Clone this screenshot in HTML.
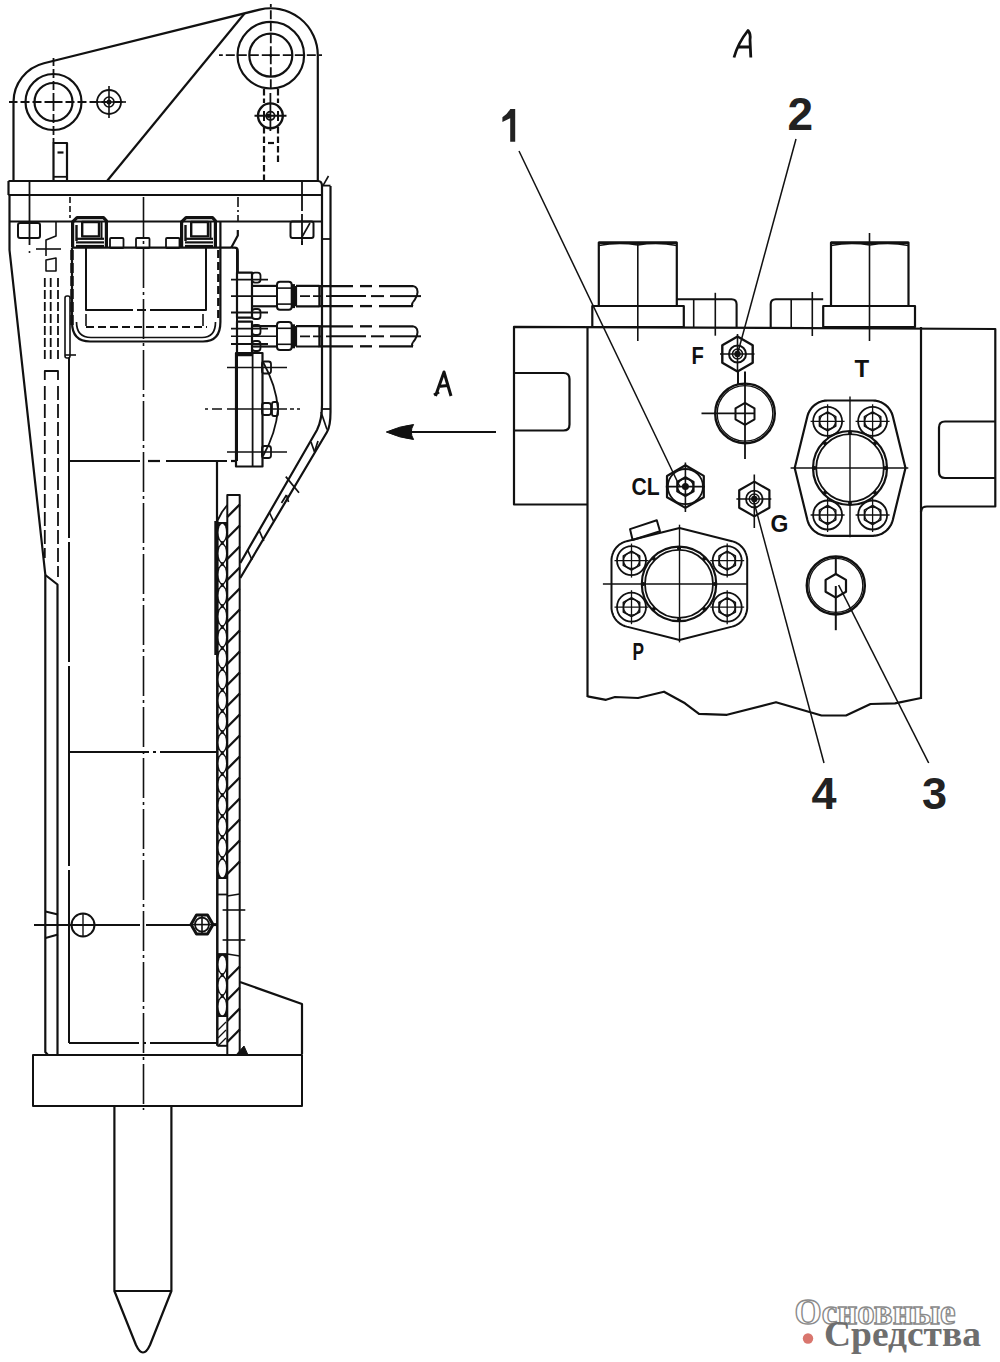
<!DOCTYPE html>
<html><head><meta charset="utf-8"><style>
html,body{margin:0;padding:0;background:#fff;}
body{width:1000px;height:1362px;overflow:hidden;position:relative;}
svg{position:absolute;left:0;top:0;}
</style></head><body>
<svg width="1000" height="1362" viewBox="0 0 1000 1362">
<g stroke="#111" fill="none" stroke-linecap="butt" stroke-linejoin="round">
<path d="M13.5 181 L13.5 102 A40 40 0 0 1 43.9 63.2 L259.6 9.6 A47 47 0 0 1 317.8 55.2 L317.8 181" stroke-width="2.2" fill="none"/>
<line x1="107" y1="181" x2="244.5" y2="13.5" stroke-width="2.2"/>
<circle cx="53.5" cy="102" r="28" stroke-width="2.2" fill="none"/>
<circle cx="53.5" cy="102" r="19" stroke-width="2.2" fill="none"/>
<line x1="53.5" y1="102" x2="9" y2="102" stroke-width="1.8" stroke-dasharray="9 3"/>
<line x1="53.5" y1="102" x2="125" y2="102" stroke-width="1.8" stroke-dasharray="9 3"/>
<line x1="53.5" y1="102" x2="53.5" y2="58" stroke-width="1.8" stroke-dasharray="9 3"/>
<line x1="53.5" y1="102" x2="53.5" y2="143" stroke-width="1.8" stroke-dasharray="9 3"/>
<circle cx="109" cy="102" r="12" stroke-width="1.8" fill="none"/>
<circle cx="109" cy="102" r="5" stroke-width="1.6" fill="none"/>
<circle cx="109" cy="102" r="2.5" stroke="none" fill="#111"/>
<line x1="95" y1="102" x2="126" y2="102" stroke-width="1.6"/>
<line x1="109" y1="86" x2="109" y2="118" stroke-width="1.6"/>
<circle cx="270.8" cy="55.2" r="33.3" stroke-width="2.2" fill="none"/>
<circle cx="270.8" cy="55.2" r="21.5" stroke-width="2.2" fill="none"/>
<line x1="270.8" y1="55.2" x2="219" y2="55.2" stroke-width="1.8" stroke-dasharray="9 3"/>
<line x1="270.8" y1="55.2" x2="322" y2="55.2" stroke-width="1.8" stroke-dasharray="9 3"/>
<line x1="270.8" y1="55.2" x2="270.8" y2="4" stroke-width="1.8" stroke-dasharray="9 3"/>
<line x1="270.8" y1="55.2" x2="270.8" y2="89" stroke-width="1.8" stroke-dasharray="9 3"/>
<circle cx="270.8" cy="55.2" r="1.5" stroke="none" fill="#111"/>
<path d="M53.5 181 L53.5 143 L67 143 L67 181" stroke-width="2.2" fill="none"/>
<line x1="57.5" y1="152.5" x2="63.5" y2="152.5" stroke-width="2.2"/>
<line x1="53.5" y1="176.8" x2="67" y2="176.8" stroke-width="1.8"/>
<line x1="264" y1="89" x2="264" y2="103" stroke-width="2.2" stroke-dasharray="6.5 3"/>
<line x1="278" y1="89" x2="278" y2="103" stroke-width="2.2" stroke-dasharray="6.5 3"/>
<line x1="264" y1="127" x2="264" y2="181" stroke-width="2.2" stroke-dasharray="6.5 3"/>
<line x1="278" y1="127" x2="278" y2="165" stroke-width="2.2" stroke-dasharray="6.5 3"/>
<line x1="268" y1="143" x2="274" y2="143" stroke-width="2.2"/>
<circle cx="270.4" cy="115.8" r="12.4" stroke-width="2.4" fill="none"/>
<circle cx="270.4" cy="115.8" r="4.2" stroke-width="1.8" fill="none"/>
<circle cx="268.5" cy="115.8" r="2.2" stroke="none" fill="#111"/>
<line x1="264" y1="111" x2="264" y2="121" stroke-width="2"/>
<line x1="278" y1="111" x2="278" y2="121" stroke-width="2"/>
<line x1="254.5" y1="115.8" x2="286.5" y2="115.8" stroke-width="2"/>
<line x1="270.4" y1="93" x2="270.4" y2="131" stroke-width="1.8"/>
<path d="M8.5 181 L318 181 Q322 181 322 186 L322 195" stroke-width="2.2" fill="none"/>
<line x1="8.5" y1="181" x2="8.5" y2="195" stroke-width="2.2"/>
<line x1="8.5" y1="195" x2="322" y2="195" stroke-width="2.2"/>
<line x1="29.5" y1="181" x2="29.5" y2="245" stroke-width="1.8"/>
<line x1="302" y1="181" x2="302" y2="245" stroke-width="1.8" stroke-dasharray="30 3 25 2"/>
<line x1="9.5" y1="195" x2="9.5" y2="250" stroke-width="2.2"/>
<line x1="10" y1="221.5" x2="322" y2="221.5" stroke-width="2.2"/>
<path d="M9.5 250 L45.3 574.5 L45.3 1052 L48 1055" stroke-width="2.2" fill="none"/>
<path d="M45.3 575 L57.5 584.5 L57.5 1055" stroke-width="2.2" fill="none"/>
<line x1="44.8" y1="278" x2="44.8" y2="362" stroke-width="1.8" stroke-dasharray="9 3"/>
<line x1="58" y1="278" x2="58" y2="362" stroke-width="1.8" stroke-dasharray="9 3"/>
<line x1="50.7" y1="278" x2="50.7" y2="362" stroke-width="1.8" stroke-dasharray="9 3"/>
<path d="M44.8 380 L44.8 371 L58 371 L58 380" stroke-width="1.8" fill="none"/>
<line x1="44.8" y1="386" x2="44.8" y2="558" stroke-width="1.8" stroke-dasharray="14 4"/>
<line x1="58" y1="386" x2="58" y2="577" stroke-width="1.8" stroke-dasharray="14 4"/>
<rect x="18" y="223" width="22" height="15" rx="2" stroke-width="2" fill="none"/>
<rect x="290.5" y="221.5" width="23" height="16.5" rx="2" stroke-width="2" fill="none"/>
<line x1="302" y1="238" x2="302" y2="245" stroke-width="1.8"/>
<line x1="302" y1="237" x2="310" y2="223" stroke-width="1.6"/>
<path d="M56 222 L56 236 L46 240 L46 256" stroke-width="1.6" fill="none"/>
<line x1="36" y1="249" x2="61" y2="249" stroke-width="1.6"/>
<path d="M46 260 L56 258 L56 271 L46 271 Z" stroke-width="1.6" fill="none"/>
<circle cx="29.5" cy="252" r="1" stroke="none" fill="#111"/>
<line x1="70" y1="197" x2="70" y2="218" stroke-width="1.6" stroke-dasharray="6 3"/>
<line x1="238" y1="197" x2="238" y2="221" stroke-width="1.6" stroke-dasharray="10 3 2 3"/>
<path d="M72.6 247.6 L72.6 222 L77 217.6 L103.5 217.6 L106.4 220.8 L106.4 247.6" stroke-width="3.2" fill="none"/>
<rect x="82.2" y="222" width="16.8" height="14.4" rx="0" stroke-width="2.4" fill="none"/>
<line x1="76.5" y1="225" x2="76.5" y2="241" stroke-width="2.4"/>
<line x1="101.5" y1="222" x2="101.5" y2="238" stroke-width="2"/>
<line x1="76" y1="238.8" x2="104" y2="238.8" stroke-width="2.2"/>
<line x1="76" y1="242.4" x2="104" y2="242.4" stroke-width="2.2"/>
<line x1="76" y1="246" x2="104" y2="246" stroke-width="2.2"/>
<path d="M181.6 247.6 L181.6 222 L186 217.6 L212.5 217.6 L215.4 220.8 L215.4 247.6" stroke-width="3.2" fill="none"/>
<rect x="191.2" y="222" width="16.8" height="14.4" rx="0" stroke-width="2.4" fill="none"/>
<line x1="185.5" y1="225" x2="185.5" y2="241" stroke-width="2.4"/>
<line x1="210.5" y1="222" x2="210.5" y2="238" stroke-width="2"/>
<line x1="185" y1="238.8" x2="213" y2="238.8" stroke-width="2.2"/>
<line x1="185" y1="242.4" x2="213" y2="242.4" stroke-width="2.2"/>
<line x1="185" y1="246" x2="213" y2="246" stroke-width="2.2"/>
<rect x="110" y="238" width="13.5" height="10" rx="1" stroke-width="1.8" fill="none"/>
<rect x="136" y="238" width="13.5" height="10" rx="1" stroke-width="1.8" fill="none"/>
<rect x="166" y="238" width="13.5" height="10" rx="1" stroke-width="1.8" fill="none"/>
<line x1="72" y1="247.7" x2="231.2" y2="247.7" stroke-width="2.2"/>
<path d="M231.2 247.7 L237.8 235.4 L237.8 230" stroke-width="2.2" fill="none"/>
<path d="M231.2 247.7 L234.5 247.7 Q237.8 247.7 237.8 251 L237.8 273" stroke-width="2.2" fill="none"/>
<path d="M86 248 L86 310 L133 310 M137 310 L146 310 M150 310 L206 310 L206 248" stroke-width="2" fill="none"/>
<line x1="86" y1="314" x2="86" y2="326" stroke-width="1.6"/>
<line x1="203" y1="314" x2="203" y2="326" stroke-width="1.6"/>
<line x1="86" y1="327" x2="207" y2="327" stroke-width="1.8" stroke-dasharray="8 4"/>
<path d="M72 248 L72 322 Q72 341.5 90 341.5 L203 341.5 Q220.4 341.5 220.4 322 L220.4 221.5" stroke-width="2.2" fill="none"/>
<path d="M76.5 322 Q76.5 337.5 91 337.5 L202 337.5 Q215.5 337.5 215.5 322" stroke-width="1.7" fill="none"/>
<line x1="72" y1="250" x2="72" y2="326" stroke-width="3.5" stroke-dasharray="10 3"/>
<line x1="218.3" y1="250" x2="218.3" y2="322" stroke-width="2.4" stroke-dasharray="8 4"/>
<rect x="65" y="296" width="5" height="62" rx="2" stroke-width="1.6" fill="none"/>
<line x1="65" y1="355" x2="76" y2="355" stroke-width="1.6"/>
<line x1="69" y1="358" x2="69" y2="1043" stroke-width="2" stroke-dasharray="180 4 120 4 200 4"/>
<line x1="143.5" y1="197" x2="143.5" y2="1110" stroke-width="1.6" stroke-dasharray="40 4 3 4"/>
<line x1="237" y1="248" x2="237" y2="461" stroke-width="2"/>
<rect x="237" y="272.6" width="15" height="45" rx="0" stroke-width="2.2" fill="none"/>
<rect x="237" y="321.6" width="15" height="33.5" rx="0" stroke-width="2.2" fill="none"/>
<rect x="252" y="272.6" width="8.5" height="10" rx="3" stroke-width="1.8" fill="none"/>
<rect x="252" y="309" width="8.5" height="10" rx="3" stroke-width="1.8" fill="none"/>
<rect x="252" y="325" width="8.5" height="10" rx="3" stroke-width="1.8" fill="none"/>
<rect x="252" y="341" width="8.5" height="10" rx="3" stroke-width="1.8" fill="none"/>
<line x1="231" y1="279.6" x2="268" y2="279.6" stroke-width="1.8"/>
<line x1="231" y1="312.5" x2="268" y2="312.5" stroke-width="1.8"/>
<line x1="231" y1="328.6" x2="268" y2="328.6" stroke-width="1.8"/>
<line x1="231" y1="344" x2="268" y2="344" stroke-width="1.8"/>
<line x1="252" y1="285.9" x2="277" y2="285.9" stroke-width="2.2"/>
<line x1="252" y1="306.3" x2="277" y2="306.3" stroke-width="2.2"/>
<rect x="277" y="281.7" width="14.7" height="28" rx="3" stroke-width="2" fill="none"/>
<line x1="277" y1="288.1" x2="291.7" y2="288.1" stroke-width="1.6"/>
<line x1="277" y1="304.1" x2="291.7" y2="304.1" stroke-width="1.6"/>
<line x1="293.5" y1="284.1" x2="293.5" y2="308.1" stroke-width="3"/>
<path d="M296 285.9 L319.5 285.9 M296 306.3 L319.5 306.3 M296 285.9 L296 306.3" stroke-width="2.2" fill="none"/>
<line x1="319.5" y1="285.1" x2="319.5" y2="307.1" stroke-width="2.4"/>
<line x1="231" y1="296.1" x2="276" y2="296.1" stroke-width="1.6"/>
<line x1="300" y1="296.1" x2="330" y2="296.1" stroke-width="1.8" stroke-dasharray="10 3"/>
<line x1="319.5" y1="286.1" x2="353" y2="286.1" stroke-width="2.3"/>
<line x1="360" y1="286.1" x2="372" y2="286.1" stroke-width="2.3"/>
<line x1="379" y1="286.1" x2="413" y2="286.1" stroke-width="2.3"/>
<line x1="319.5" y1="306.1" x2="353" y2="306.1" stroke-width="2.3"/>
<line x1="360" y1="306.1" x2="372" y2="306.1" stroke-width="2.3"/>
<line x1="379" y1="306.1" x2="413" y2="306.1" stroke-width="2.3"/>
<line x1="330" y1="296.1" x2="366" y2="296.1" stroke-width="2"/>
<line x1="371" y1="296.1" x2="384" y2="296.1" stroke-width="2"/>
<line x1="390" y1="296.1" x2="421" y2="296.1" stroke-width="2"/>
<path d="M413 286.1 Q419 287.1 417 295.1 Q415 300.1 413 302.1" stroke-width="2" fill="none"/>
<path d="M413 302.1 Q411 305.1 413 306.1" stroke-width="2" fill="none"/>
<line x1="252" y1="326.1" x2="277" y2="326.1" stroke-width="2.2"/>
<line x1="252" y1="346.5" x2="277" y2="346.5" stroke-width="2.2"/>
<rect x="277" y="321.9" width="14.7" height="28" rx="3" stroke-width="2" fill="none"/>
<line x1="277" y1="328.3" x2="291.7" y2="328.3" stroke-width="1.6"/>
<line x1="277" y1="344.3" x2="291.7" y2="344.3" stroke-width="1.6"/>
<line x1="293.5" y1="324.3" x2="293.5" y2="348.3" stroke-width="3"/>
<path d="M296 326.1 L319.5 326.1 M296 346.5 L319.5 346.5 M296 326.1 L296 346.5" stroke-width="2.2" fill="none"/>
<line x1="319.5" y1="325.3" x2="319.5" y2="347.3" stroke-width="2.4"/>
<line x1="231" y1="336.3" x2="276" y2="336.3" stroke-width="1.6"/>
<line x1="300" y1="336.3" x2="330" y2="336.3" stroke-width="1.8" stroke-dasharray="10 3"/>
<line x1="319.5" y1="326.3" x2="353" y2="326.3" stroke-width="2.3"/>
<line x1="360" y1="326.3" x2="372" y2="326.3" stroke-width="2.3"/>
<line x1="379" y1="326.3" x2="413" y2="326.3" stroke-width="2.3"/>
<line x1="319.5" y1="346.3" x2="353" y2="346.3" stroke-width="2.3"/>
<line x1="360" y1="346.3" x2="372" y2="346.3" stroke-width="2.3"/>
<line x1="379" y1="346.3" x2="413" y2="346.3" stroke-width="2.3"/>
<line x1="330" y1="336.3" x2="366" y2="336.3" stroke-width="2"/>
<line x1="371" y1="336.3" x2="384" y2="336.3" stroke-width="2"/>
<line x1="390" y1="336.3" x2="421" y2="336.3" stroke-width="2"/>
<path d="M413 326.3 Q419 327.3 417 335.3 Q415 340.3 413 342.3" stroke-width="2" fill="none"/>
<path d="M413 342.3 Q411 345.3 413 346.3" stroke-width="2" fill="none"/>
<path d="M322 195 L322 405 Q322 420 317 430 L240.3 563" stroke-width="2.2" fill="none"/>
<path d="M330.5 186 L330.5 412 Q330.5 426 327 432 L240.3 578" stroke-width="2.2" fill="none"/>
<line x1="322" y1="239" x2="330.5" y2="239" stroke-width="1.8"/>
<line x1="322" y1="409" x2="330.5" y2="409" stroke-width="1.8"/>
<line x1="322" y1="185.6" x2="330.5" y2="185.6" stroke-width="1.8"/>
<line x1="323" y1="185.6" x2="328.5" y2="176" stroke-width="1.6"/>
<line x1="321" y1="412" x2="327" y2="429.6" stroke-width="1.7"/>
<line x1="311" y1="442" x2="314.5" y2="451.7" stroke-width="1.7"/>
<line x1="314.5" y1="451.7" x2="318" y2="441" stroke-width="1.7"/>
<line x1="285.8" y1="476.6" x2="299" y2="492.8" stroke-width="1.7"/>
<line x1="281.5" y1="503" x2="286.5" y2="495" stroke-width="1.7"/>
<line x1="286.5" y1="495" x2="288.5" y2="502" stroke-width="1.7"/>
<line x1="269.6" y1="513" x2="274" y2="522" stroke-width="1.7"/>
<line x1="259.4" y1="531" x2="263.8" y2="541" stroke-width="1.7"/>
<line x1="247.6" y1="550" x2="252" y2="560" stroke-width="1.7"/>
<rect x="236" y="353" width="26.5" height="113.5" rx="0" stroke-width="2.2" fill="none"/>
<line x1="252.6" y1="353" x2="252.6" y2="466.5" stroke-width="1.8"/>
<line x1="227" y1="367.5" x2="287" y2="367.5" stroke-width="1.6"/>
<rect x="262" y="361.5" width="9" height="12" rx="2.5" stroke-width="1.8" fill="none"/>
<line x1="227" y1="409" x2="287" y2="409" stroke-width="1.6"/>
<rect x="262" y="403" width="9" height="12" rx="2.5" stroke-width="1.8" fill="none"/>
<line x1="227" y1="452" x2="287" y2="452" stroke-width="1.6"/>
<rect x="262" y="446" width="9" height="12" rx="2.5" stroke-width="1.8" fill="none"/>
<path d="M263 362 Q276 385 278 409 Q276 433 263 456" stroke-width="1.8" fill="none"/>
<rect x="272" y="402" width="6" height="14" rx="2" stroke-width="1.8" fill="none"/>
<line x1="205" y1="409" x2="225" y2="409" stroke-width="1.6" stroke-dasharray="3 4 10 4"/>
<line x1="290" y1="409" x2="300" y2="409" stroke-width="1.6" stroke-dasharray="4 3"/>
<line x1="69" y1="461" x2="140" y2="461" stroke-width="2.2"/>
<line x1="148" y1="461" x2="160" y2="461" stroke-width="2.2"/>
<line x1="166" y1="461" x2="227" y2="461" stroke-width="2.2"/>
<line x1="231" y1="461" x2="237" y2="461" stroke-width="2.2"/>
<line x1="217" y1="461" x2="217" y2="521" stroke-width="2.2"/>
<line x1="69" y1="752" x2="217" y2="752" stroke-width="1.8" stroke-dasharray="80 4 3 4 200"/>
<line x1="69" y1="1043" x2="217" y2="1043" stroke-width="2" stroke-dasharray="70 4 3 4 200"/>
<rect x="227.3" y="495" width="12.4" height="560" rx="0" stroke-width="2" fill="none"/>
<line x1="217.3" y1="521" x2="217.3" y2="1045.8" stroke-width="2.5"/>
<line x1="215.8" y1="521" x2="215.8" y2="655" stroke-width="3"/>
<line x1="217.3" y1="1045.8" x2="227.3" y2="1045.8" stroke-width="2"/>
<line x1="227.3" y1="517" x2="239.7" y2="504.5" stroke-width="2.3"/>
<line x1="227.3" y1="538" x2="239.7" y2="525.5" stroke-width="2.3"/>
<line x1="227.3" y1="559" x2="239.7" y2="546.5" stroke-width="2.3"/>
<line x1="227.3" y1="580" x2="239.7" y2="567.5" stroke-width="2.3"/>
<line x1="227.3" y1="601" x2="239.7" y2="588.5" stroke-width="2.3"/>
<line x1="227.3" y1="622" x2="239.7" y2="609.5" stroke-width="2.3"/>
<line x1="227.3" y1="643" x2="239.7" y2="630.5" stroke-width="2.3"/>
<line x1="227.3" y1="664" x2="239.7" y2="651.5" stroke-width="2.3"/>
<line x1="227.3" y1="685" x2="239.7" y2="672.5" stroke-width="2.3"/>
<line x1="227.3" y1="706" x2="239.7" y2="693.5" stroke-width="2.3"/>
<line x1="227.3" y1="727" x2="239.7" y2="714.5" stroke-width="2.3"/>
<line x1="227.3" y1="748" x2="239.7" y2="735.5" stroke-width="2.3"/>
<line x1="227.3" y1="769" x2="239.7" y2="756.5" stroke-width="2.3"/>
<line x1="227.3" y1="790" x2="239.7" y2="777.5" stroke-width="2.3"/>
<line x1="227.3" y1="811" x2="239.7" y2="798.5" stroke-width="2.3"/>
<line x1="227.3" y1="832" x2="239.7" y2="819.5" stroke-width="2.3"/>
<line x1="227.3" y1="853" x2="239.7" y2="840.5" stroke-width="2.3"/>
<line x1="227.3" y1="874" x2="239.7" y2="861.5" stroke-width="2.3"/>
<line x1="227.3" y1="979" x2="239.7" y2="966.5" stroke-width="2.3"/>
<line x1="227.3" y1="1000" x2="239.7" y2="987.5" stroke-width="2.3"/>
<line x1="227.3" y1="1021" x2="239.7" y2="1008.5" stroke-width="2.3"/>
<line x1="227.3" y1="1042" x2="239.7" y2="1029.5" stroke-width="2.3"/>
<rect x="217.3" y="522" width="10" height="357" fill="#111" stroke="none"/>
<ellipse cx="222.3" cy="532.5" rx="3.7" ry="8.8" fill="#fff" stroke="none"/>
<ellipse cx="222.3" cy="553.5" rx="3.7" ry="8.8" fill="#fff" stroke="none"/>
<polygon points="218.6,539.5 218.6,546.5 221,543" fill="#fff" stroke="none"/>
<polygon points="226,539.5 226,546.5 223.6,543" fill="#fff" stroke="none"/>
<ellipse cx="222.3" cy="574.5" rx="3.7" ry="8.8" fill="#fff" stroke="none"/>
<polygon points="218.6,560.5 218.6,567.5 221,564" fill="#fff" stroke="none"/>
<polygon points="226,560.5 226,567.5 223.6,564" fill="#fff" stroke="none"/>
<ellipse cx="222.3" cy="595.5" rx="3.7" ry="8.8" fill="#fff" stroke="none"/>
<polygon points="218.6,581.5 218.6,588.5 221,585" fill="#fff" stroke="none"/>
<polygon points="226,581.5 226,588.5 223.6,585" fill="#fff" stroke="none"/>
<ellipse cx="222.3" cy="616.5" rx="3.7" ry="8.8" fill="#fff" stroke="none"/>
<polygon points="218.6,602.5 218.6,609.5 221,606" fill="#fff" stroke="none"/>
<polygon points="226,602.5 226,609.5 223.6,606" fill="#fff" stroke="none"/>
<ellipse cx="222.3" cy="637.5" rx="3.7" ry="8.8" fill="#fff" stroke="none"/>
<polygon points="218.6,623.5 218.6,630.5 221,627" fill="#fff" stroke="none"/>
<polygon points="226,623.5 226,630.5 223.6,627" fill="#fff" stroke="none"/>
<ellipse cx="222.3" cy="658.5" rx="3.7" ry="8.8" fill="#fff" stroke="none"/>
<polygon points="218.6,644.5 218.6,651.5 221,648" fill="#fff" stroke="none"/>
<polygon points="226,644.5 226,651.5 223.6,648" fill="#fff" stroke="none"/>
<ellipse cx="222.3" cy="679.5" rx="3.7" ry="8.8" fill="#fff" stroke="none"/>
<polygon points="218.6,665.5 218.6,672.5 221,669" fill="#fff" stroke="none"/>
<polygon points="226,665.5 226,672.5 223.6,669" fill="#fff" stroke="none"/>
<ellipse cx="222.3" cy="700.5" rx="3.7" ry="8.8" fill="#fff" stroke="none"/>
<polygon points="218.6,686.5 218.6,693.5 221,690" fill="#fff" stroke="none"/>
<polygon points="226,686.5 226,693.5 223.6,690" fill="#fff" stroke="none"/>
<ellipse cx="222.3" cy="721.5" rx="3.7" ry="8.8" fill="#fff" stroke="none"/>
<polygon points="218.6,707.5 218.6,714.5 221,711" fill="#fff" stroke="none"/>
<polygon points="226,707.5 226,714.5 223.6,711" fill="#fff" stroke="none"/>
<ellipse cx="222.3" cy="742.5" rx="3.7" ry="8.8" fill="#fff" stroke="none"/>
<polygon points="218.6,728.5 218.6,735.5 221,732" fill="#fff" stroke="none"/>
<polygon points="226,728.5 226,735.5 223.6,732" fill="#fff" stroke="none"/>
<ellipse cx="222.3" cy="763.5" rx="3.7" ry="8.8" fill="#fff" stroke="none"/>
<polygon points="218.6,749.5 218.6,756.5 221,753" fill="#fff" stroke="none"/>
<polygon points="226,749.5 226,756.5 223.6,753" fill="#fff" stroke="none"/>
<ellipse cx="222.3" cy="784.5" rx="3.7" ry="8.8" fill="#fff" stroke="none"/>
<polygon points="218.6,770.5 218.6,777.5 221,774" fill="#fff" stroke="none"/>
<polygon points="226,770.5 226,777.5 223.6,774" fill="#fff" stroke="none"/>
<ellipse cx="222.3" cy="805.5" rx="3.7" ry="8.8" fill="#fff" stroke="none"/>
<polygon points="218.6,791.5 218.6,798.5 221,795" fill="#fff" stroke="none"/>
<polygon points="226,791.5 226,798.5 223.6,795" fill="#fff" stroke="none"/>
<ellipse cx="222.3" cy="826.5" rx="3.7" ry="8.8" fill="#fff" stroke="none"/>
<polygon points="218.6,812.5 218.6,819.5 221,816" fill="#fff" stroke="none"/>
<polygon points="226,812.5 226,819.5 223.6,816" fill="#fff" stroke="none"/>
<ellipse cx="222.3" cy="847.5" rx="3.7" ry="8.8" fill="#fff" stroke="none"/>
<polygon points="218.6,833.5 218.6,840.5 221,837" fill="#fff" stroke="none"/>
<polygon points="226,833.5 226,840.5 223.6,837" fill="#fff" stroke="none"/>
<ellipse cx="222.3" cy="868.5" rx="3.7" ry="8.8" fill="#fff" stroke="none"/>
<polygon points="218.6,854.5 218.6,861.5 221,858" fill="#fff" stroke="none"/>
<polygon points="226,854.5 226,861.5 223.6,858" fill="#fff" stroke="none"/>
<rect x="217.3" y="954" width="10" height="63" fill="#111" stroke="none"/>
<ellipse cx="222.3" cy="964.5" rx="3.7" ry="8.8" fill="#fff" stroke="none"/>
<ellipse cx="222.3" cy="985.5" rx="3.7" ry="8.8" fill="#fff" stroke="none"/>
<polygon points="218.6,971.5 218.6,978.5 221,975" fill="#fff" stroke="none"/>
<polygon points="226,971.5 226,978.5 223.6,975" fill="#fff" stroke="none"/>
<ellipse cx="222.3" cy="1006.5" rx="3.7" ry="8.8" fill="#fff" stroke="none"/>
<polygon points="218.6,992.5 218.6,999.5 221,996" fill="#fff" stroke="none"/>
<polygon points="226,992.5 226,999.5 223.6,996" fill="#fff" stroke="none"/>
<line x1="218" y1="1030" x2="226" y2="1022" stroke-width="1.3"/>
<line x1="218" y1="1038" x2="226" y2="1030" stroke-width="1.3"/>
<line x1="218" y1="1046" x2="226" y2="1038" stroke-width="1.3"/>
<line x1="217.3" y1="894.5" x2="227.3" y2="894.5" stroke-width="1.8"/>
<line x1="217.3" y1="954" x2="227.3" y2="954" stroke-width="1.8"/>
<line x1="227.3" y1="896" x2="239.7" y2="894" stroke-width="1.6"/>
<line x1="227.3" y1="954" x2="239.7" y2="956" stroke-width="1.6"/>
<line x1="222.6" y1="910" x2="245.3" y2="910" stroke-width="1.6"/>
<line x1="222.6" y1="940" x2="245.3" y2="940" stroke-width="1.6"/>
<path d="M217.3 521 L222 512 L227.3 505" stroke-width="1.8" fill="none"/>
<line x1="34" y1="925" x2="140" y2="925" stroke-width="2"/>
<line x1="146" y1="925" x2="190" y2="925" stroke-width="2"/>
<line x1="45.5" y1="911.5" x2="58" y2="914.5" stroke-width="2"/>
<line x1="45.5" y1="938" x2="58" y2="934.5" stroke-width="2"/>
<circle cx="83" cy="925" r="11.5" stroke-width="2" fill="none"/>
<line x1="83" y1="914" x2="83" y2="936" stroke-width="1.4"/>
<polygon points="213,924.6 207.5,934.1 196.5,934.1 191,924.6 196.5,915.1 207.5,915.1" stroke-width="3" fill="none"/>
<circle cx="202" cy="924.6" r="7" stroke-width="1.8" fill="none"/>
<line x1="192" y1="924.6" x2="212" y2="924.6" stroke-width="1.6"/>
<line x1="202" y1="916" x2="202" y2="933" stroke-width="1.6"/>
<line x1="212" y1="924.6" x2="217" y2="924.6" stroke-width="3"/>
<path d="M240 982 L302 1004 L302 1054" stroke-width="2.2" fill="none"/>
<path d="M236 1055 L244 1046 L248 1055 Z" stroke-width="1" fill="#111"/>
<rect x="33" y="1055" width="269" height="51" rx="0" stroke-width="2" fill="none"/>
<path d="M114.4 1106 L114.4 1291 L171.4 1291 L171.4 1106" stroke-width="2.2" fill="none"/>
<path d="M114.4 1291 L136 1345 Q143 1360 150 1345 L171.4 1291" stroke-width="2.2" fill="none"/>
<path d="M587.5 504.5 L514 504.5 L514 326.8 L995.3 329 L995.3 506.5 L927 506.5 Q921 506.5 921 512" stroke-width="2.2" fill="none"/>
<line x1="587.5" y1="327" x2="587.5" y2="697" stroke-width="2.2"/>
<line x1="921" y1="327" x2="921" y2="699" stroke-width="2.2"/>
<path d="M587.5 696.3 L606 699.8 L615 697 L638 698 L664 691.7 L685 703.3 L699 713.8 L727 714.8 L776 702.2 L821.5 715.5 L846 715.5 L870.5 704 L895 703.3 L921 698" stroke-width="2.2" fill="none"/>
<path d="M514 373 L563.5 373 Q569.5 373 569.5 379 L569.5 424.5 Q569.5 430.5 563.5 430.5 L514 430.5" stroke-width="2.2" fill="none"/>
<path d="M995 421.5 L945 421.5 Q939 421.5 939 427.5 L939 472 Q939 478 945 478 L995 478" stroke-width="2.2" fill="none"/>
<path d="M598.8 306 L598.8 242.5 L676.8 242.5 L676.8 306" stroke-width="2.2" fill="none"/>
<line x1="598.8" y1="242.8" x2="676.8" y2="242.8" stroke-width="2.6"/>
<path d="M598.8 245.5 Q618.3 242 637.8 245 Q657.3 242 676.8 245.5" stroke-width="1.5" fill="none"/>
<rect x="592.3" y="306" width="91.5" height="21" rx="0" stroke-width="2.2" fill="none"/>
<line x1="637.8" y1="242" x2="637.8" y2="341" stroke-width="1.6"/>
<path d="M831 306 L831 242.5 L908.5 242.5 L908.5 306" stroke-width="2.2" fill="none"/>
<line x1="831" y1="242.8" x2="908.5" y2="242.8" stroke-width="2.6"/>
<path d="M831 245.5 Q850.4 242 869.8 245 Q889.1 242 908.5 245.5" stroke-width="1.5" fill="none"/>
<rect x="823.2" y="306" width="91.8" height="21" rx="0" stroke-width="2.2" fill="none"/>
<line x1="869.5" y1="233" x2="869.5" y2="341" stroke-width="1.6"/>
<path d="M676.8 299.3 L731.6 299.3 Q736.6 299.3 736.6 304.3 L736.6 327" stroke-width="2.1" fill="none"/>
<line x1="693.7" y1="299.3" x2="693.7" y2="327" stroke-width="1.6"/>
<line x1="715.3" y1="292.8" x2="715.3" y2="335.7" stroke-width="1.6"/>
<path d="M823.2 299.3 L775.7 299.3 Q770.7 299.3 770.7 304.3 L770.7 327" stroke-width="2.1" fill="none"/>
<line x1="791.2" y1="299.3" x2="791.2" y2="327" stroke-width="1.6"/>
<line x1="812.3" y1="292" x2="812.3" y2="336" stroke-width="1.6"/>
<polygon points="737.5,371.5 722.3,362.8 722.3,345.2 737.5,336.5 752.7,345.2 752.7,362.8" stroke-width="2.4" fill="none"/>
<circle cx="737.5" cy="354" r="8.5" stroke-width="2" fill="none"/>
<circle cx="737.5" cy="354" r="5" stroke-width="1.5" fill="none"/>
<circle cx="737.5" cy="354" r="3.2" stroke="none" fill="#111"/>
<line x1="720" y1="354" x2="754.5" y2="354" stroke-width="1.6"/>
<line x1="737.5" y1="334" x2="737.5" y2="372" stroke-width="1.6"/>
<line x1="738" y1="371.5" x2="738" y2="385" stroke-width="2"/>
<line x1="745" y1="371.5" x2="745" y2="385" stroke-width="2"/>
<circle cx="745" cy="413.4" r="29.8" stroke-width="2.4" fill="none"/>
<circle cx="745" cy="413.4" r="27.8" stroke-width="1.3" fill="none"/>
<polygon points="745,424.8 735.5,419.3 735.5,408.3 745,402.8 754.5,408.3 754.5,419.3" stroke-width="2" fill="none"/>
<line x1="701.5" y1="413.4" x2="755" y2="413.4" stroke-width="1.8"/>
<line x1="745" y1="384" x2="745" y2="459" stroke-width="1.8"/>
<polygon points="685.4,507.9 667,497.2 667,476 685.4,465.3 703.8,475.9 703.8,497.2" stroke-width="2.2" fill="none"/>
<circle cx="685.4" cy="486.6" r="17.6" stroke-width="1.8" fill="none"/>
<polygon points="685.4,496.1 677.2,491.4 677.2,481.9 685.4,477.1 693.6,481.9 693.6,491.4" stroke-width="2" fill="none"/>
<circle cx="685.4" cy="486.6" r="8" stroke-width="1.6" fill="none"/>
<circle cx="685.4" cy="486.6" r="3.5" stroke="none" fill="#111"/>
<line x1="665.8" y1="486.6" x2="705" y2="486.6" stroke-width="1.6"/>
<line x1="685.4" y1="462.5" x2="685.4" y2="512" stroke-width="1.6"/>
<polygon points="754.3,516.4 739.2,507.7 739.2,490.3 754.3,481.6 769.4,490.3 769.4,507.7" stroke-width="2.2" fill="none"/>
<circle cx="754.3" cy="499" r="8.3" stroke-width="1.8" fill="none"/>
<circle cx="754.3" cy="499" r="5" stroke-width="1.4" fill="none"/>
<circle cx="754.3" cy="499" r="3.2" stroke="none" fill="#111"/>
<line x1="736.4" y1="499" x2="771.3" y2="499" stroke-width="1.6"/>
<line x1="754.3" y1="474.5" x2="754.3" y2="528" stroke-width="1.6"/>
<path d="M794.7 468 L807.4 416.3 L807.6 415.6 L807.8 414.9 L808.1 414.2 L808.3 413.5 L808.6 412.8 L808.9 412.2 L809.2 411.5 L809.6 410.9 L810 410.3 L810.4 409.7 L810.8 409.1 L811.2 408.5 L811.7 407.9 L812.1 407.4 L812.6 406.9 L813.2 406.3 L813.7 405.8 L814.2 405.4 L814.8 404.9 L815.4 404.5 L816 404.1 L816.6 403.7 L817.2 403.3 L817.8 402.9 L818.5 402.6 L819.1 402.3 L819.8 402 L820.5 401.8 L821.2 401.5 L821.9 401.3 L822.6 401.1 L823.3 401 L824 400.8 L824.7 400.7 L825.4 400.6 L826.1 400.6 L826.9 400.5 L827.6 400.5 L872.6 400.5 L873.3 400.5 L874.1 400.6 L874.8 400.6 L875.5 400.7 L876.2 400.8 L876.9 401 L877.6 401.1 L878.3 401.3 L879 401.5 L879.7 401.8 L880.4 402 L881.1 402.3 L881.7 402.6 L882.4 402.9 L883 403.3 L883.6 403.7 L884.2 404.1 L884.8 404.5 L885.4 404.9 L886 405.4 L886.5 405.8 L887 406.3 L887.6 406.9 L888.1 407.4 L888.5 407.9 L889 408.5 L889.4 409.1 L889.8 409.7 L890.2 410.3 L890.6 410.9 L891 411.5 L891.3 412.2 L891.6 412.8 L891.9 413.5 L892.1 414.2 L892.4 414.9 L892.6 415.6 L892.8 416.3 L905.5 468 L892.8 520 L892.6 520.7 L892.4 521.4 L892.1 522.1 L891.9 522.8 L891.6 523.5 L891.3 524.1 L891 524.8 L890.6 525.4 L890.2 526 L889.8 526.6 L889.4 527.2 L889 527.8 L888.5 528.4 L888.1 528.9 L887.6 529.4 L887 530 L886.5 530.5 L886 530.9 L885.4 531.4 L884.8 531.8 L884.2 532.2 L883.6 532.6 L883 533 L882.4 533.4 L881.7 533.7 L881.1 534 L880.4 534.3 L879.7 534.5 L879 534.8 L878.3 535 L877.6 535.2 L876.9 535.3 L876.2 535.5 L875.5 535.6 L874.8 535.7 L874.1 535.7 L873.3 535.8 L872.6 535.8 L827.6 535.8 L826.9 535.8 L826.1 535.7 L825.4 535.7 L824.7 535.6 L824 535.5 L823.3 535.3 L822.6 535.2 L821.9 535 L821.2 534.8 L820.5 534.5 L819.8 534.3 L819.1 534 L818.5 533.7 L817.8 533.4 L817.2 533 L816.6 532.6 L816 532.2 L815.4 531.8 L814.8 531.4 L814.2 530.9 L813.7 530.5 L813.2 530 L812.6 529.4 L812.1 528.9 L811.7 528.4 L811.2 527.8 L810.8 527.2 L810.4 526.6 L810 526 L809.6 525.4 L809.2 524.8 L808.9 524.1 L808.6 523.5 L808.3 522.8 L808.1 522.1 L807.8 521.4 L807.6 520.7 L807.4 520 Z" stroke-width="2.2" fill="none"/>
<circle cx="827.6" cy="421.3" r="14.5" stroke-width="1.8" fill="none"/>
<polygon points="827.6,430.8 819.4,426.1 819.4,416.6 827.6,411.8 835.8,416.6 835.8,426.1" stroke-width="1.5" fill="none"/>
<circle cx="827.6" cy="421.3" r="8" stroke-width="1.3" fill="none"/>
<line x1="810.6" y1="421.3" x2="844.6" y2="421.3" stroke-width="1.3"/>
<line x1="827.6" y1="404.3" x2="827.6" y2="438.3" stroke-width="1.3"/>
<circle cx="872.6" cy="421.3" r="14.5" stroke-width="1.8" fill="none"/>
<polygon points="872.6,430.8 864.4,426.1 864.4,416.6 872.6,411.8 880.8,416.6 880.8,426.1" stroke-width="1.5" fill="none"/>
<circle cx="872.6" cy="421.3" r="8" stroke-width="1.3" fill="none"/>
<line x1="855.6" y1="421.3" x2="889.6" y2="421.3" stroke-width="1.3"/>
<line x1="872.6" y1="404.3" x2="872.6" y2="438.3" stroke-width="1.3"/>
<circle cx="827.6" cy="515" r="14.5" stroke-width="1.8" fill="none"/>
<polygon points="827.6,524.5 819.4,519.8 819.4,510.2 827.6,505.5 835.8,510.2 835.8,519.8" stroke-width="1.5" fill="none"/>
<circle cx="827.6" cy="515" r="8" stroke-width="1.3" fill="none"/>
<line x1="810.6" y1="515" x2="844.6" y2="515" stroke-width="1.3"/>
<line x1="827.6" y1="498" x2="827.6" y2="532" stroke-width="1.3"/>
<circle cx="872.6" cy="515" r="14.5" stroke-width="1.8" fill="none"/>
<polygon points="872.6,524.5 864.4,519.8 864.4,510.2 872.6,505.5 880.8,510.2 880.8,519.8" stroke-width="1.5" fill="none"/>
<circle cx="872.6" cy="515" r="8" stroke-width="1.3" fill="none"/>
<line x1="855.6" y1="515" x2="889.6" y2="515" stroke-width="1.3"/>
<line x1="872.6" y1="498" x2="872.6" y2="532" stroke-width="1.3"/>
<circle cx="850" cy="468" r="37" stroke-width="2.2" fill="none"/>
<circle cx="850" cy="468" r="33.8" stroke-width="1.8" fill="none"/>
<circle cx="885.4" cy="468" r="2" stroke="none" fill="#111"/>
<circle cx="875" cy="492.7" r="2" stroke="none" fill="#111"/>
<circle cx="850" cy="503" r="2" stroke="none" fill="#111"/>
<circle cx="825" cy="492.7" r="2" stroke="none" fill="#111"/>
<circle cx="814.6" cy="468" r="2" stroke="none" fill="#111"/>
<circle cx="825" cy="443.3" r="2" stroke="none" fill="#111"/>
<circle cx="850" cy="433" r="2" stroke="none" fill="#111"/>
<circle cx="875" cy="443.3" r="2" stroke="none" fill="#111"/>
<line x1="790.6" y1="468" x2="908.3" y2="468" stroke-width="1.4"/>
<line x1="850" y1="396.5" x2="850" y2="537.3" stroke-width="1.4"/>
<path d="M611.5 560.6 L611.5 559.9 L611.5 559.2 L611.6 558.5 L611.7 557.8 L611.8 557.1 L611.9 556.4 L612.1 555.8 L612.3 555.1 L612.5 554.4 L612.7 553.8 L613 553.1 L613.2 552.5 L613.5 551.8 L613.8 551.2 L614.2 550.6 L614.5 550 L614.9 549.4 L615.3 548.8 L615.7 548.3 L616.2 547.7 L616.6 547.2 L617.1 546.7 L617.6 546.2 L618.1 545.7 L618.6 545.3 L619.2 544.8 L619.7 544.4 L620.3 544 L620.9 543.6 L621.5 543.3 L622.1 542.9 L622.7 542.6 L623.4 542.3 L624 542.1 L624.7 541.8 L625.3 541.6 L626 541.4 L626.7 541.2 L679.5 528 L732 541.2 L732.7 541.4 L733.4 541.6 L734 541.8 L734.7 542.1 L735.3 542.3 L736 542.6 L736.6 542.9 L737.2 543.3 L737.8 543.6 L738.4 544 L739 544.4 L739.5 544.8 L740.1 545.3 L740.6 545.7 L741.1 546.2 L741.6 546.7 L742.1 547.2 L742.5 547.7 L743 548.3 L743.4 548.8 L743.8 549.4 L744.2 550 L744.5 550.6 L744.9 551.2 L745.2 551.8 L745.5 552.5 L745.7 553.1 L746 553.8 L746.2 554.4 L746.4 555.1 L746.6 555.8 L746.8 556.4 L746.9 557.1 L747 557.8 L747.1 558.5 L747.2 559.2 L747.2 559.9 L747.2 560.6 L747.2 607.2 L747.2 607.9 L747.2 608.6 L747.1 609.3 L747 610 L746.9 610.7 L746.8 611.4 L746.6 612 L746.4 612.7 L746.2 613.4 L746 614 L745.7 614.7 L745.5 615.3 L745.2 616 L744.9 616.6 L744.5 617.2 L744.2 617.8 L743.8 618.4 L743.4 619 L743 619.5 L742.5 620.1 L742.1 620.6 L741.6 621.1 L741.1 621.6 L740.6 622.1 L740.1 622.5 L739.5 623 L739 623.4 L738.4 623.8 L737.8 624.2 L737.2 624.5 L736.6 624.9 L736 625.2 L735.3 625.5 L734.7 625.7 L734 626 L733.4 626.2 L732.7 626.4 L732 626.6 L679.5 640 L626.7 626.6 L626 626.4 L625.3 626.2 L624.7 626 L624 625.7 L623.4 625.5 L622.7 625.2 L622.1 624.9 L621.5 624.5 L620.9 624.2 L620.3 623.8 L619.7 623.4 L619.2 623 L618.6 622.5 L618.1 622.1 L617.6 621.6 L617.1 621.1 L616.6 620.6 L616.2 620.1 L615.7 619.5 L615.3 619 L614.9 618.4 L614.5 617.8 L614.2 617.2 L613.8 616.6 L613.5 616 L613.2 615.3 L613 614.7 L612.7 614 L612.5 613.4 L612.3 612.7 L612.1 612 L611.9 611.4 L611.8 610.7 L611.7 610 L611.6 609.3 L611.5 608.6 L611.5 607.9 L611.5 607.2 Z" stroke-width="2" fill="none"/>
<circle cx="631.5" cy="560.6" r="14.5" stroke-width="1.8" fill="none"/>
<polygon points="631.5,570.1 623.3,565.4 623.3,555.9 631.5,551.1 639.7,555.9 639.7,565.4" stroke-width="1.5" fill="none"/>
<circle cx="631.5" cy="560.6" r="8" stroke-width="1.3" fill="none"/>
<line x1="614.5" y1="560.6" x2="648.5" y2="560.6" stroke-width="1.3"/>
<line x1="631.5" y1="543.6" x2="631.5" y2="577.6" stroke-width="1.3"/>
<circle cx="727.2" cy="560.6" r="14.5" stroke-width="1.8" fill="none"/>
<polygon points="727.2,570.1 719,565.4 719,555.9 727.2,551.1 735.4,555.9 735.4,565.4" stroke-width="1.5" fill="none"/>
<circle cx="727.2" cy="560.6" r="8" stroke-width="1.3" fill="none"/>
<line x1="710.2" y1="560.6" x2="744.2" y2="560.6" stroke-width="1.3"/>
<line x1="727.2" y1="543.6" x2="727.2" y2="577.6" stroke-width="1.3"/>
<circle cx="631.5" cy="607.2" r="14.5" stroke-width="1.8" fill="none"/>
<polygon points="631.5,616.7 623.3,612 623.3,602.5 631.5,597.7 639.7,602.5 639.7,612" stroke-width="1.5" fill="none"/>
<circle cx="631.5" cy="607.2" r="8" stroke-width="1.3" fill="none"/>
<line x1="614.5" y1="607.2" x2="648.5" y2="607.2" stroke-width="1.3"/>
<line x1="631.5" y1="590.2" x2="631.5" y2="624.2" stroke-width="1.3"/>
<circle cx="727.2" cy="607.2" r="14.5" stroke-width="1.8" fill="none"/>
<polygon points="727.2,616.7 719,612 719,602.5 727.2,597.7 735.4,602.5 735.4,612" stroke-width="1.5" fill="none"/>
<circle cx="727.2" cy="607.2" r="8" stroke-width="1.3" fill="none"/>
<line x1="710.2" y1="607.2" x2="744.2" y2="607.2" stroke-width="1.3"/>
<line x1="727.2" y1="590.2" x2="727.2" y2="624.2" stroke-width="1.3"/>
<circle cx="679" cy="583.9" r="37.2" stroke-width="2.2" fill="none"/>
<circle cx="679" cy="583.9" r="34" stroke-width="1.8" fill="none"/>
<circle cx="714.6" cy="583.9" r="2" stroke="none" fill="#111"/>
<circle cx="704.2" cy="609.1" r="2" stroke="none" fill="#111"/>
<circle cx="679" cy="619.5" r="2" stroke="none" fill="#111"/>
<circle cx="653.8" cy="609.1" r="2" stroke="none" fill="#111"/>
<circle cx="643.4" cy="583.9" r="2" stroke="none" fill="#111"/>
<circle cx="653.8" cy="558.7" r="2" stroke="none" fill="#111"/>
<circle cx="679" cy="548.3" r="2" stroke="none" fill="#111"/>
<circle cx="704.2" cy="558.7" r="2" stroke="none" fill="#111"/>
<line x1="602.9" y1="584" x2="748" y2="584" stroke-width="1.4"/>
<line x1="679.5" y1="524.7" x2="679.5" y2="642.4" stroke-width="1.4"/>
<polygon points="630,529.1 656.8,520.3 660,531.3 632.6,540" stroke-width="2" fill="none"/>
<circle cx="835.8" cy="585.4" r="29" stroke-width="2.5" fill="none"/>
<circle cx="835.8" cy="585.4" r="27" stroke-width="1.3" fill="none"/>
<polygon points="835.8,597.6 825.6,591.7 825.6,579.9 835.8,574 846,579.9 846,591.7" stroke-width="2.2" fill="none"/>
<line x1="835.8" y1="557" x2="835.8" y2="574" stroke-width="2"/>
<line x1="835.8" y1="586" x2="835.8" y2="630.2" stroke-width="2"/>
<line x1="519" y1="151" x2="680" y2="487" stroke-width="1.5"/>
<line x1="796" y1="139" x2="737.5" y2="354" stroke-width="1.5"/>
<line x1="838.6" y1="585" x2="928.7" y2="763" stroke-width="1.6"/>
<line x1="754" y1="502" x2="824" y2="763" stroke-width="1.5"/>
<path d="M510.3 109 L515.2 109 L515.2 141.7 L510.2 141.7 L510.2 118.2 Q506 120.5 502.4 121.9 L502.4 117.3 Q507 114.5 510.3 109 Z" fill="#222" stroke="none"/>
<text x="787.5" y="129.8" font-family="Liberation Sans" font-size="46" font-weight="bold" text-anchor="start" fill="#222" stroke="none" >2</text>
<text x="811.5" y="809.2" font-family="Liberation Sans" font-size="45" font-weight="bold" text-anchor="start" fill="#222" stroke="none" >4</text>
<text x="922" y="809.2" font-family="Liberation Sans" font-size="45" font-weight="bold" text-anchor="start" fill="#222" stroke="none" >3</text>
<text x="691.5" y="364" font-family="Liberation Sans" font-size="23.5" font-weight="bold" text-anchor="start" fill="#111" stroke="none" transform="translate(691.5 0) scale(0.86 1) translate(-691.5 0)">F</text>
<text x="854.5" y="376.8" font-family="Liberation Sans" font-size="24" font-weight="bold" text-anchor="start" fill="#111" stroke="none" >T</text>
<text x="631.5" y="494.9" font-family="Liberation Sans" font-size="23.5" font-weight="bold" text-anchor="start" fill="#111" stroke="none" transform="translate(631.5 0) scale(0.9 1) translate(-631.5 0)">CL</text>
<text x="770.5" y="531.8" font-family="Liberation Sans" font-size="23" font-weight="bold" text-anchor="start" fill="#111" stroke="none" >G</text>
<text x="632.5" y="660.4" font-family="Liberation Sans" font-size="24" font-weight="bold" text-anchor="start" fill="#111" stroke="none" transform="translate(632.5 0) scale(0.72 1) translate(-632.5 0)">P</text>
<path d="M734 57.5 Q738 43 748 30.5 Q751 34 750 40 L750.8 57.5 M737 47 L749.5 47" stroke-width="2.8" fill="none"/>
<path d="M435.5 396 L444 372 L451 396 M438 386.5 L448 385.5 M434 395 L439 392" stroke-width="3" fill="none"/>
<line x1="400" y1="432" x2="496" y2="432" stroke-width="2"/>
<path d="M386.3 432 Q400 426 413.6 424.5 Q409 432 413.6 439.5 Q400 438 386.3 432 Z" stroke-width="1" fill="#111"/>
</g>
<g stroke="none">
<text x="794.5" y="1323.5" font-family="Liberation Serif" font-size="36" font-weight="bold" fill="#fff" stroke="#8a8a8a" stroke-width="1.4" textLength="161" lengthAdjust="spacingAndGlyphs">Основные</text>
<circle cx="808" cy="1338.5" r="5.2" fill="#d9766e"/>
<text x="824" y="1345.5" font-family="Liberation Serif" font-size="35" font-weight="bold" fill="#6e6e6e" textLength="157" lengthAdjust="spacingAndGlyphs">Средства</text>
</g>
</svg>
</body></html>
